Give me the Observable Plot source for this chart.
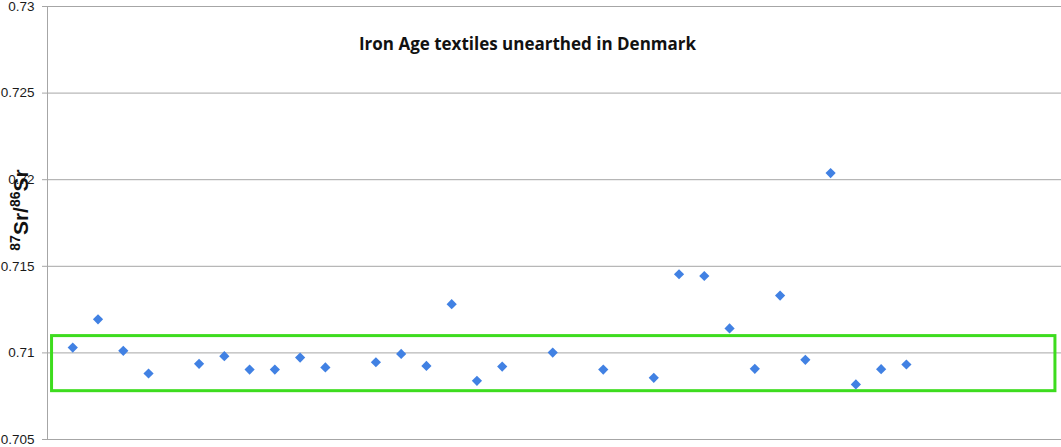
<!DOCTYPE html>
<html><head><meta charset="utf-8">
<script src="https://cdn.jsdelivr.net/npm/d3@7"></script>
<script src="https://cdn.jsdelivr.net/npm/@observablehq/plot@0.6"></script>
<style>body{margin:0;background:#fff;overflow:hidden}</style>
</head><body><div id="chart"></div>
<script>
const sampleIndex = [1,2,3,4,6,7,8,9,10,11,13,14,15,16,17,18,20,22,24,25,26,27,28,29,30,31,32,33,34];
const srRatio = [0.71031,0.71194,0.71012,0.70881,0.70937,0.70981,0.70904,0.70904,0.70973,0.70916,
                 0.70946,0.70994,0.70925,0.71281,0.70839,0.70921,0.71002,0.70904,
                 0.70856,0.71454,0.71444,0.71141,0.70908,0.71331,0.70960,0.72038,0.70818,0.70906,0.70933];
const yTicks = [0.705,0.71,0.715,0.72,0.725,0.73];
const localRangeY = [0.70779, 0.71097];
const localRangeX = [0.18, 39.9];
const title = "Iron Age textiles unearthed in Denmark";
const yLabelParts = [["87", true], ["Sr", false], ["/", false], ["86", true], ["Sr", false]];

const data = sampleIndex.map((x, i) => ({x, y: srRatio[i]}));
const fmt = d => String(+d.toFixed(3));

const plot = Plot.plot({
  width: 1061, height: 447,
  marginLeft: 47, marginRight: 0, marginTop: 6, marginBottom: 8,
  style: {fontFamily: "'Liberation Sans', Arial, sans-serif", fontSize: "13.5px", color: "#222", background: "#fff"},
  x: {domain: [0, 40.14], axis: null},
  y: {domain: [0.705, 0.73], axis: null},
  marks: [
    Plot.gridY(yTicks, {stroke: "#a6a6a6", strokeOpacity: 1, strokeWidth: 1}),
    Plot.ruleX([0], {stroke: "#a6a6a6", strokeWidth: 1}),
    Plot.axisY(yTicks, {tickFormat: fmt, tickSize: 5, tickPadding: 8, stroke: "#a6a6a6", fill: "#1a1a1a", label: null}),
    Plot.rect([localRangeY], {x1: () => localRangeX[0], x2: () => localRangeX[1], y1: d => d[0], y2: d => d[1],
      fill: "none", stroke: "#3ddc1e", strokeWidth: 3}),
    Plot.dot(data, {x: "x", y: "y", symbol: "diamond2", r: 4.6, fill: "#4181e3", stroke: null}),
    Plot.text([title], {frameAnchor: "top", lineAnchor: "middle", dy: 38, dx: -27,
      fontWeight: "bold", fontSize: 17, fontFamily: "'Open Sans', sans-serif", fill: "#111"})
  ]
});
document.getElementById("chart").appendChild(plot);

const lab = d3.select(plot).append("text")
  .attr("transform", "translate(28,210) rotate(-90)")
  .attr("text-anchor", "middle")
  .attr("font-family", "'Liberation Sans', Arial, sans-serif")
  .attr("font-weight", "bold")
  .attr("font-size", 21)
  .attr("fill", "#111");
let raised = false;
for (const [t, sup] of yLabelParts) {
  const ts = lab.append("tspan").text(t);
  if (sup) { ts.attr("font-size", 14); if (!raised) { ts.attr("dy", -8); raised = true; } }
  else if (raised) { ts.attr("dy", 8); raised = false; }
}
</script>
</body></html>
